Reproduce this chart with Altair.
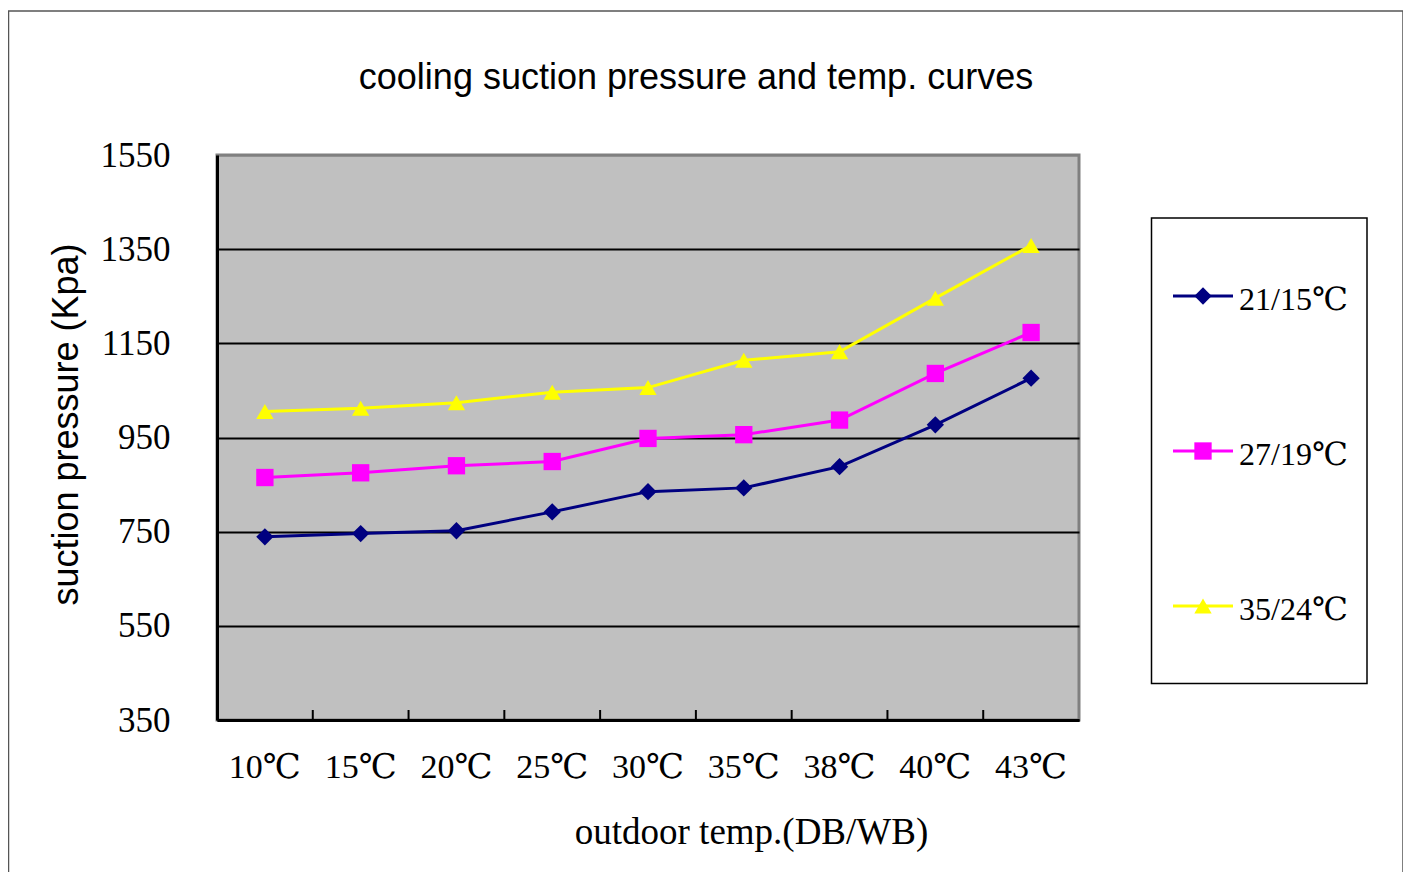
import altair as alt
import pandas as pd

# ---- data ----
temps = ["10℃", "15℃", "20℃", "25℃", "30℃", "35℃", "38℃", "40℃", "43℃"]
series_names = ["21/15℃", "27/19℃", "35/24℃"]
s_21_15 = [739, 746, 752, 792, 835, 843, 888, 977, 1076]
s_27_19 = [865, 875, 890, 899, 948, 956, 987, 1086, 1173]
s_35_24 = [1005, 1012, 1024, 1046, 1056, 1114, 1132, 1246, 1358]
y_ticks = [350, 550, 750, 950, 1150, 1350, 1550]

series_colors = ["#000080", "#FF00FF", "#FFFF00"]
series_shapes = ["diamond", "square", "triangle-up"]

rows = []
for name, vals in zip(series_names, [s_21_15, s_27_19, s_35_24]):
    for t, v in zip(temps, vals):
        rows.append({"temp": t, "series": name, "pressure": v})
df = pd.DataFrame(rows)
legend_df = pd.DataFrame({"series": series_names})
tick_df = pd.DataFrame({"temp": temps[1:]})
one_df = pd.DataFrame({"k": [0]})

W, H = 862, 565
SERIF = "Liberation Serif, DejaVu Serif, Noto Sans CJK SC"
SANS = "Liberation Sans, Arial, sans-serif"

x_scale = alt.Scale(type="band", domain=temps, paddingInner=0, paddingOuter=0)
color_scale = alt.Scale(domain=series_names, range=series_colors)
shape_scale = alt.Scale(domain=series_names, range=series_shapes)

x_enc = alt.X(
    "temp:N",
    scale=x_scale,
    sort=temps,
    axis=alt.Axis(
        title="outdoor temp.(DB/WB)",
        titleFont=SERIF,
        titleFontSize=37,
        titleFontWeight="normal",
        titleColor="black",
        titleX=534,
        titleY=123,
        titleAlign="center",
        titleBaseline="alphabetic",
        labelFont=SERIF,
        labelFontSize=34,
        labelColor="black",
        labelAngle=0,
        labelAlign="center",
        labelPadding=47,
        bandPosition=0.5,
        ticks=False,
        grid=False,
        domainColor="black",
        domainWidth=3,
    ),
)

y_enc = alt.Y(
    "pressure:Q",
    scale=alt.Scale(domain=[350, 1550], nice=False, zero=False),
    axis=alt.Axis(
        values=y_ticks,
        format="d",
        title="suction pressure (Kpa)",
        titleFont=SANS,
        titleFontSize=36,
        titleFontWeight="normal",
        titleColor="black",
        titleAngle=270,
        titleX=-140,
        titleY=269,
        titleAlign="center",
        titleBaseline="alphabetic",
        labelFont=SERIF,
        labelFontSize=35,
        labelColor="black",
        labelPadding=47,
        ticks=False,
        grid=True,
        gridColor={"condition": {"test": "datum.value >= 1550", "value": "#808080"}, "value": "black"},
        gridWidth=2,
        gridOpacity=1,
        domainColor="black",
        domainWidth=3,
    ),
)

lines = alt.Chart(df).mark_line(strokeWidth=3).encode(
    x=x_enc,
    y=y_enc,
    color=alt.Color("series:N", scale=color_scale, legend=None),
    detail="series:N",
)
points = alt.Chart(df).mark_point(filled=True, opacity=1, size=300).encode(
    x=alt.X("temp:N", sort=temps),
    y=alt.Y("pressure:Q"),
    color=alt.Color("series:N", scale=color_scale, legend=None),
    shape=alt.Shape("series:N", scale=shape_scale, legend=None),
)
main = alt.layer(lines, points)

# inward x-axis tick marks at category boundaries
xticks = alt.Chart(tick_df).mark_rule(color="black", strokeWidth=2).encode(
    x=alt.X("temp:N", sort=temps, bandPosition=0),
    y=alt.value(H - 10),
    y2=alt.value(H),
)

# outer chart frame
frame = alt.Chart(one_df).mark_rect(fill="white", fillOpacity=0, stroke="#555555", strokeWidth=1.5).encode(
    x=alt.value(-208.5), x2=alt.value(1186), y=alt.value(-144), y2=alt.value(760)
)

# legend box and entries
legend_box = alt.Chart(one_df).mark_rect(fill="white", stroke="black", strokeWidth=1.5).encode(
    x=alt.value(934.5), x2=alt.value(1150), y=alt.value(63), y2=alt.value(528.5)
)
leg_y = alt.Y(
    "series:N",
    scale=alt.Scale(type="point", domain=series_names, range=[141, 451], padding=0),
    axis=None,
)
leg_lines = alt.Chart(legend_df).mark_rule(strokeWidth=3).encode(
    x=alt.value(956), x2=alt.value(1016), y=leg_y,
    color=alt.Color("series:N", scale=color_scale, legend=None),
)
leg_points = alt.Chart(legend_df).mark_point(filled=True, opacity=1, size=300).encode(
    x=alt.value(986), y=leg_y,
    color=alt.Color("series:N", scale=color_scale, legend=None),
    shape=alt.Shape("series:N", scale=shape_scale, legend=None),
)
leg_text = alt.Chart(legend_df).mark_text(
    align="left", baseline="middle", font=SERIF, fontSize=32, color="black", dy=4
).encode(x=alt.value(1022), y=leg_y, text="series:N")

chart = (
    alt.layer(frame, legend_box, xticks, main, leg_lines, leg_points, leg_text)
    .resolve_scale(y="independent")
    .properties(
        width=W,
        height=H,
        title=alt.TitleParams(
            text="cooling suction pressure and temp. curves",
            font=SANS,
            fontSize=36,
            fontWeight="normal",
            color="black",
            anchor="middle",
            frame="group",
            offset=0,
            dx=48,
            dy=115,
            baseline="alphabetic",
        ),
        autosize=alt.AutoSizeParams(type="none"),
        padding={"left": 209, "top": 147, "right": 324, "bottom": 152},
        background="white",
    )
    .configure_view(fill="#C0C0C0", stroke="#808080", strokeWidth=3)
)

chart.save("out.html", embed_options={"renderer": "svg", "actions": False})
